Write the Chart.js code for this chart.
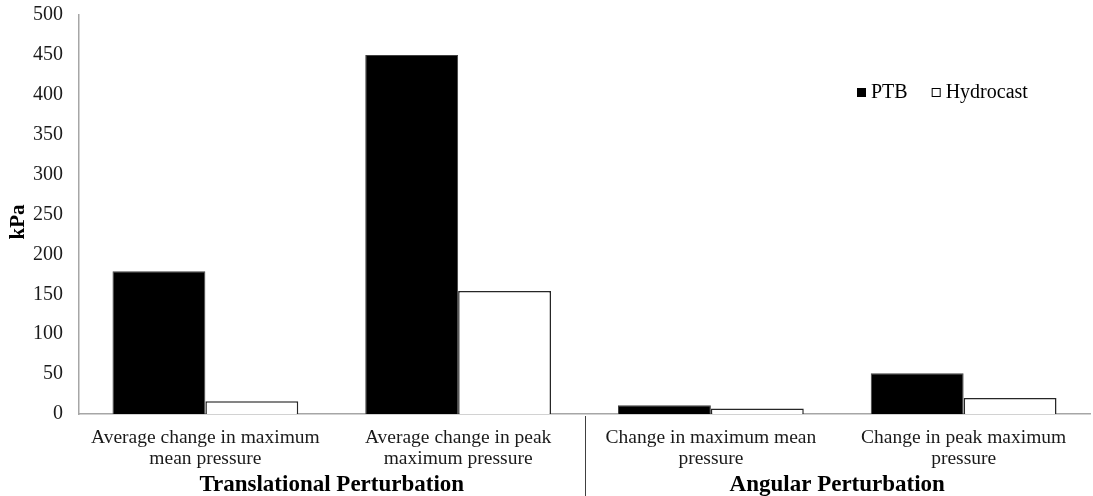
<!DOCTYPE html>
<html>
<head>
<meta charset="utf-8">
<script src="https://cdn.jsdelivr.net/npm/chart.js@4/dist/chart.umd.min.js"></script>
<style>
  body { margin: 0; background: #fff; }
</style>
</head>
<body>
<canvas id="barChart" width="1093" height="496"></canvas>
<script>
var categories = [
  ['Average change in maximum', 'mean pressure'],
  ['Average change in peak', 'maximum pressure'],
  ['Change in maximum mean', 'pressure'],
  ['Change in peak maximum', 'pressure']
];
var groupNames = ['Translational Perturbation', 'Angular Perturbation'];
var groupSizes = [2, 2];
var ptbValues = [179, 450, 11, 51];
var hydrocastValues = [16, 154, 7, 20];
var seriesNames = ['PTB', 'Hydrocast'];
var yTitle = 'kPa';

var serif = '"Liberation Serif", "Times New Roman", serif';

// group labels under the category axis, separator line, y title and legend
var groupAxis = {
  id: 'groupAxis',
  afterDraw: function(chart) {
    var x = chart.scales.x;
    var ctx = chart.ctx;
    var area = chart.chartArea;
    ctx.save();
    ctx.fillStyle = '#000';
    ctx.font = 'bold 23px ' + serif;
    ctx.textAlign = 'center';
    ctx.textBaseline = 'middle';
    var start = 0;
    for (var g = 0; g < groupNames.length; g++) {
      var end = start + groupSizes[g] - 1;
      var half = (x.getPixelForValue(1) - x.getPixelForValue(0)) / 2;
      var left = x.getPixelForValue(start) - half;
      var right = x.getPixelForValue(end) + half;
      ctx.fillText(groupNames[g], (left + right) / 2, 485);
      if (g > 0) {
        ctx.strokeStyle = '#404040';
        ctx.lineWidth = 1;
        ctx.beginPath();
        ctx.moveTo(Math.round(left) + 0.5, area.bottom + 2);
        ctx.lineTo(Math.round(left) + 0.5, chart.height);
        ctx.stroke();
      }
      start = end + 1;
    }

    // y axis title
    ctx.save();
    ctx.translate(19, 222);
    ctx.rotate(-Math.PI / 2);
    ctx.font = 'bold 21px ' + serif;
    ctx.fillText(yTitle, 0, 0);
    ctx.restore();

    // legend
    ctx.font = '20px ' + serif;
    ctx.textAlign = 'left';
    var lx = 857, ly = 93;
    chart.data.datasets.forEach(function(ds) {
      ctx.fillStyle = ds.backgroundColor;
      ctx.fillRect(lx, ly - 5, 9, 9);
      ctx.strokeStyle = '#000';
      ctx.strokeRect(lx + 0.5, ly - 4.5, 8, 8);
      ctx.fillStyle = '#000';
      ctx.fillText(ds.label, lx + 14, ly);
      lx += 14 + ctx.measureText(ds.label).width + 24;
    });
    ctx.restore();
  }
};

var ctx = document.getElementById('barChart').getContext('2d');
var myBarChart = new Chart(ctx, {
  type: 'bar',
  data: {
    labels: categories,
    datasets: [{
      label: seriesNames[0],
      data: ptbValues,
      backgroundColor: '#000000',
      borderColor: '#404040',
      borderWidth: 1
    }, {
      label: seriesNames[1],
      data: hydrocastValues,
      backgroundColor: '#ffffff',
      borderColor: '#262626',
      borderWidth: 1.5
    }]
  },
  options: {
    responsive: false,
    animation: false,
    categoryPercentage: 0.735,
    barPercentage: 1,
    layout: {
      padding: { top: 15, right: 3, left: 0, bottom: 0 }
    },
    plugins: {
      legend: { display: false },
      tooltip: { enabled: false }
    },
    scales: {
      y: {
        min: 0,
        max: 500,
        ticks: {
          stepSize: 50,
          color: '#1a1a1a',
          padding: 16,
          font: { family: serif, size: 20 }
        },
        grid: { display: false, drawTicks: false },
        border: { color: '#a6a6a6', width: 1.5 },
        afterFit: function(scale) {
          scale.width = 79;
          scale.paddingTop = 0;
        }
      },
      x: {
        ticks: {
          color: '#1a1a1a',
          padding: 13,
          maxRotation: 0,
          autoSkip: false,
          font: { family: serif, size: 19.5, lineHeight: 1.1 }
        },
        grid: { display: false, drawTicks: false },
        border: { color: '#a6a6a6', width: 1.5 },
        afterFit: function(scale) { scale.height = 82; }
      }
    }
  },
  plugins: [groupAxis]
});
</script>
</body>
</html>
